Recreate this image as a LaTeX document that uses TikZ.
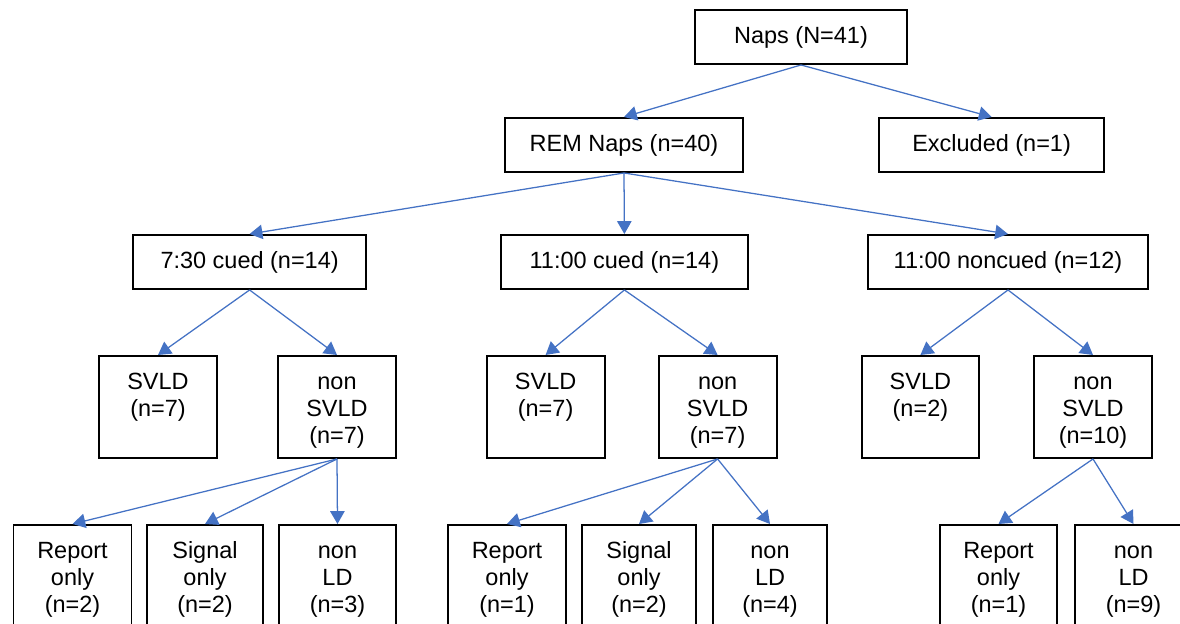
\documentclass[tikz,border=0pt]{standalone}
\usepackage{fontspec}
\setmainfont{Liberation Sans}
\usetikzlibrary{arrows.meta}
\definecolor{linkblue}{HTML}{4472C4}
\tikzset{
	box/.style={draw, line width=1.4pt, inner sep=0pt, align=center, font=\fontsize{16.7}{19.2}\selectfont},
	% one line of text, centred
	wide/.style={box, minimum width=#1, minimum height=1.35cm},
	% several lines, hung from the top edge
	tall/.style={box, anchor=north, text width=#1, text height=0.84cm, text depth=1.71cm},
	link/.style={linkblue, line width=0.9pt, -{Triangle[width=0.36cm, length=0.32cm]}}
}

\begin{document}
\begin{tikzpicture}
	% 1180 x 624 px at 40 px per cm
	\useasboundingbox (0, 0) rectangle (29.5, 15.6);

	% top
	\node[wide=5.3cm] (naps) at (20.025, 14.675) {Naps (N=41)};
	\node[wide=5.95cm] (rem) at (15.6, 11.975) {REM Naps (n=40)};
	\node[wide=5.625cm] (excl) at (24.79, 11.975) {Excluded (n=1)};

	% sessions
	\node[wide=5.825cm] (cue730) at (6.24, 9.05) {7:30 cued (n=14)};
	\node[wide=6.175cm] (cue1100) at (15.61, 9.05) {11:00 cued (n=14)};
	\node[wide=7cm] (nocue1100) at (25.2, 9.05) {11:00 noncued (n=12)};

	% SVLD split
	\node[tall=2.95cm] (svldA) at (3.95, 6.725) {SVLD\\(n=7)};
	\node[tall=2.95cm] (nsvldA) at (8.425, 6.725) {non\\SVLD\\(n=7)};
	\node[tall=2.95cm] (svldB) at (13.64, 6.725) {SVLD\\(n=7)};
	\node[tall=2.95cm] (nsvldB) at (17.94, 6.725) {non\\SVLD\\(n=7)};
	\node[tall=2.925cm] (svldC) at (23.01, 6.725) {SVLD\\(n=2)};
	\node[tall=2.95cm] (nsvldC) at (27.325, 6.725) {non\\SVLD\\(n=10)};

	% non SVLD split
	\node[tall=2.95cm] (repA) at (1.8125, 2.5) {Report\\only\\(n=2)};
	\node[tall=2.9cm] (sigA) at (5.125, 2.5) {Signal\\only\\(n=2)};
	\node[tall=2.925cm] (nldA) at (8.4375, 2.5) {non\\LD\\(n=3)};
	\node[tall=2.95cm] (repB) at (12.675, 2.5) {Report\\only\\(n=1)};
	\node[tall=2.85cm] (sigB) at (15.975, 2.5) {Signal\\only\\(n=2)};
	\node[tall=2.85cm] (nldB) at (19.25, 2.5) {non\\LD\\(n=4)};
	\node[tall=2.925cm] (repC) at (24.9625, 2.5) {Report\\only\\(n=1)};
	\node[tall=2.925cm] (nldC) at (28.3375, 2.5) {non\\LD\\(n=9)};

	\draw[link] (naps.south) -- (rem.north);
	\draw[link] (naps.south) -- (excl.north);

	\draw[link] (rem.south) -- (cue730.north);
	\draw[link] (rem.south) -- (cue1100.north);
	\draw[link] (rem.south) -- (nocue1100.north);

	\draw[link] (cue730.south) -- (svldA.north);
	\draw[link] (cue730.south) -- (nsvldA.north);
	\draw[link] (cue1100.south) -- (svldB.north);
	\draw[link] (cue1100.south) -- (nsvldB.north);
	\draw[link] (nocue1100.south) -- (svldC.north);
	\draw[link] (nocue1100.south) -- (nsvldC.north);

	\draw[link] (nsvldA.south) -- (repA.north);
	\draw[link] (nsvldA.south) -- (sigA.north);
	\draw[link] (nsvldA.south) -- (nldA.north);
	\draw[link] (nsvldB.south) -- (repB.north);
	\draw[link] (nsvldB.south) -- (sigB.north);
	\draw[link] (nsvldB.south) -- (nldB.north);
	\draw[link] (nsvldC.south) -- (repC.north);
	\draw[link] (nsvldC.south) -- (nldC.north);
\end{tikzpicture}
\end{document}
